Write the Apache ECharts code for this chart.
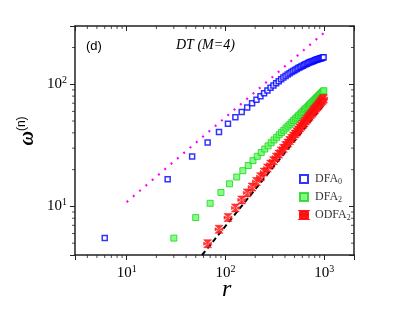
<!DOCTYPE html>
<html><head><meta charset="utf-8">
<script src="https://cdn.jsdelivr.net/npm/echarts@6/dist/echarts.min.js"></script>
<style>html,body{margin:0;padding:0;background:#fff}#c{width:410px;height:317px}</style>
</head><body><div id="c"></div>
<script>
// ---- data ----
const rBlue = [6,26,46,66,86,106,126,146,166,186,206,226,246,266,286,306,326,346,366,386,406,426,446,466,486,506,526,546,566,586,606,626,646,666,686,706,726,746,766,786,806,826,846,866,886,906,926,946,966,986];
const wBlue = [5.5,16.7,25.6,33.4,40.7,47.4,53.7,59.4,64.6,70.0,74.8,79.8,84.5,89.0,93.5,97.8,102.0,106.0,109.8,113.4,116.8,120.0,123.0,125.8,128.5,131.0,133.4,135.7,137.9,140.0,142.0,143.9,145.7,147.4,149.0,150.5,152.0,153.4,154.7,156.0,157.2,158.4,159.5,160.6,161.6,162.6,163.5,164.4,165.3,166.2];
const rGreen = [30,50,70,90,110,130,150,170,190,210,230,250,270,290,310,330,350,370,390,410,430,450,470,490,510,530,550,570,590,610,630,650,670,690,710,730,750,770,790,810,830,850,870,890,910,930,950,970,990];
const wGreen = [5.5,8.1,10.6,13.0,15.3,17.4,19.6,21.6,23.7,25.7,27.6,29.5,31.3,33.2,35.0,36.8,38.6,40.3,42.0,43.8,45.5,47.1,48.8,50.5,52.1,53.7,55.3,56.9,58.5,60.1,61.7,63.2,64.8,66.3,67.9,69.4,70.9,72.4,73.9,75.4,76.9,78.4,79.9,81.3,82.8,84.2,85.7,87.1,88.6];
const rRed = [66,86,106,126,146,166,186,206,226,246,266,286,306,326,346,366,386,406,426,446,466,486,506,526,546,566,586,606,626,646,666,686,706,726,746,766,786,806,826,846,866,886,906,926,946,966,986];
const wRed = [4.95,6.5,8.1,9.7,11.3,12.9,14.4,16.0,17.5,19.1,20.6,22.2,23.7,25.3,26.8,28.4,29.9,31.5,33.0,34.6,36.1,37.7,39.2,40.8,42.3,43.9,45.4,47.0,48.5,50.1,51.6,53.2,54.7,56.3,57.8,59.4,60.9,62.5,64.0,65.6,67.1,68.7,70.2,71.8,73.3,74.9,76.4];
const guideDotted = [[10,10.85],[1000,265]];
const guideDashed = [[58,4.0],[1000,69]];
const xRange = [3, 2000];
const yRange = [4, 300];
const xMinor = [4,5,6,7,8,9,20,30,40,50,60,70,80,90,200,300,400,500,600,700,800,900];
const yMinor = [5,6,7,8,9,20,30,40,50,60,70,80,90,200];
const names = ['DFA0','DFA2','ODFA2'];

const zip = (a,b)=>a.map((v,i)=>[v,b[i]]);
const SERIF = '"Liberation Serif","Times New Roman",serif';
const isPow = v => Math.abs(Math.log10(v)-Math.round(Math.log10(v)))<1e-6;
const powLabel = v => isPow(v) ? '{b|10}{s|'+Math.round(Math.log10(v))+'}' : '';
const labelRich = {b:{fontSize:15,fontFamily:SERIF,color:'#000'},s:{fontSize:10,fontFamily:SERIF,color:'#000',verticalAlign:'top',padding:[0,0,8,0]}};

const axCommon = {type:'log', logBase:10, splitLine:{show:false}, axisLine:{show:true,lineStyle:{color:'#222',width:1.5}}};

function tickSeries(data, xi, yi, size, offset){
  return {type:'scatter', xAxisIndex:xi, yAxisIndex:yi, data:data, symbol:'rect', symbolSize:size, symbolOffset:offset,
    itemStyle:{color:'#222'}, silent:true, clip:false, z:1, legendHoverLink:false};
}

const chart = echarts.init(document.getElementById('c'));
chart.setOption({
  animation:false,
  grid:{left:75,right:56,top:26,bottom:62},
  xAxis:[
    Object.assign({}, axCommon, {position:'bottom', min:xRange[0], max:xRange[1],
      axisTick:{show:true,inside:false,length:5,lineStyle:{color:'#222',width:1}},
      axisLabel:{formatter:powLabel, rich:labelRich, margin:9}}),
    Object.assign({}, axCommon, {position:'top', min:xRange[0], max:xRange[1],
      axisTick:{show:true,inside:true,length:5,lineStyle:{color:'#222',width:1}}, axisLabel:{show:false}})
  ],
  yAxis:[
    Object.assign({}, axCommon, {position:'left', min:yRange[0], max:yRange[1],
      axisTick:{show:true,inside:false,length:5,lineStyle:{color:'#222',width:1}},
      axisLabel:{formatter:powLabel, rich:labelRich, margin:8}}),
    Object.assign({}, axCommon, {position:'right', min:yRange[0], max:yRange[1],
      axisTick:{show:true,inside:true,length:5,lineStyle:{color:'#222',width:1}}, axisLabel:{show:false}})
  ],
  legend:{
    orient:'vertical', left:294, top:168, itemGap:5, itemWidth:8, itemHeight:8,
    data:names,
    formatter: n => '{b|'+n.slice(0,-1)+'}{s|'+n.slice(-1)+'}',
    textStyle:{padding:[0,0,0,2], rich:{b:{fontSize:12,fontFamily:SERIF,color:'#333'},s:{fontSize:8,fontFamily:SERIF,color:'#333',verticalAlign:'bottom',padding:[6,0,0,0]}}}
  },
  series:[
    {type:'line', data:guideDotted, showSymbol:false, lineStyle:{color:'#ff00ff',width:2.2,type:[2,6.3]}, silent:true, z:2},
    {type:'line', data:guideDashed, showSymbol:false, lineStyle:{color:'#000',width:2,type:[5,3.5]}, silent:true, z:2},
    {name:'DFA0', type:'scatter', data:zip(rBlue,wBlue), symbol:'rect', symbolSize:5,
      itemStyle:{color:'#fff',borderColor:'#0000ff',borderWidth:1.5}, z:3},
    {name:'DFA2', type:'scatter', data:zip(rGreen,wGreen), symbol:'rect', symbolSize:6,
      itemStyle:{color:'#66ff66',borderColor:'#1fd01f',borderWidth:1}, z:3},
    {name:'ODFA2', type:'scatter', data:zip(rRed,wRed),
      symbol:'path://M0,0 L10,0 L5,5 L10,10 L0,10 L5,5 Z M0,3 L4,5 L0,7 Z M10,3 L6,5 L10,7 Z', symbolSize:8,
      itemStyle:{color:'#ff2020',borderColor:'#ff0000',borderWidth:0.5,opacity:0.9}, z:4},
    tickSeries(xMinor.map(v=>[v,yRange[0]]),0,0,[1,3],[0,1.5]),
    tickSeries(xMinor.map(v=>[v,yRange[1]]),0,0,[1,3],[0,1.5]),
    tickSeries(yMinor.map(v=>[xRange[0],v]),0,0,[3,1],[-1.5,0]),
    tickSeries(yMinor.map(v=>[xRange[1],v]),0,0,[3,1],[-1.5,0])
  ],
  graphic:[
    {type:'text', left:86, top:40, style:{text:'(d)', font:'13px "Liberation Sans",Arial,sans-serif', fill:'#000'}},
    {type:'text', left:176, top:38, style:{text:'DT (M=4)', font:'italic 14px "Liberation Serif","Times New Roman",serif', fill:'#000'}},
    {type:'text', left:222, top:278, style:{text:'r', font:'italic 24px "Liberation Serif","Times New Roman",serif', fill:'#000'}},
    {type:'text', x:28, y:131, rotation:Math.PI/2, style:{text:'{w|ω}{n|(n)}', align:'center', verticalAlign:'middle',
      rich:{w:{font:'bold italic 20px "Liberation Serif","Times New Roman",serif', fill:'#000'},
            n:{font:'12px "Liberation Sans",Arial,sans-serif', fill:'#000', verticalAlign:'top', padding:[0,0,12,0]}}}}
  ]
});
</script></body></html>
